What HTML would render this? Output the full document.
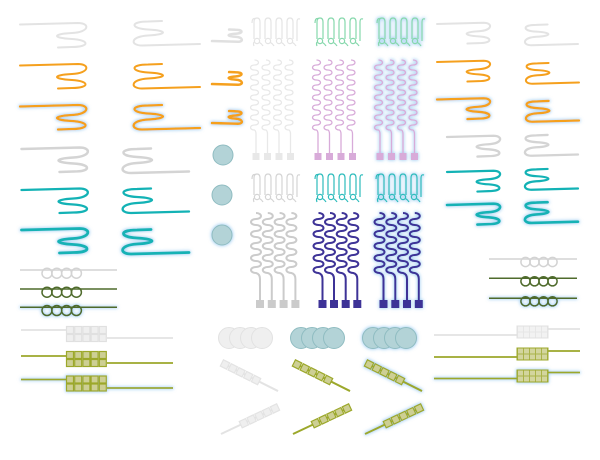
<!DOCTYPE html>
<html><head><meta charset="utf-8"><style>html,body{margin:0;padding:0;background:#fff}svg{display:block}</style></head>
<body>
<svg width="600" height="460" viewBox="0 0 600 460" xmlns="http://www.w3.org/2000/svg" xmlns:xlink="http://www.w3.org/1999/xlink">
<defs>
<filter id="g" filterUnits="userSpaceOnUse" x="0" y="0" width="600" height="460">
 <feMorphology in="SourceAlpha" operator="dilate" radius="0.5" result="d"/>
 <feGaussianBlur in="d" stdDeviation="1.6" result="b"/>
 <feFlood flood-color="#6ab2ea" flood-opacity="0.6"/>
 <feComposite in2="b" operator="in" result="c"/>
 <feMerge><feMergeNode in="c"/><feMergeNode in="SourceGraphic"/></feMerge>
</filter>
<path id="P" d="M0,0 L58,-1.5 C70,-1.5 70,7.5 52,8.5 C32,9.5 32,13.5 52,14.5 C70,15.5 70,22.5 52,22.5 L38,23" fill="none" vector-effect="non-scaling-stroke" stroke-linecap="round" stroke-linejoin="round"/>
<g id="N" fill="none" stroke-width="1.2">
 <path d="M0,6 Q0,1 3,1.5 M2,22 V5 Q2,1 5,1 Q8,1 8,5 V22 M13,22 V5 Q13,1 16,1 Q19,1 19,5 V22 M24,22 V5 Q24,1 27,1 Q30,1 30,5 V22 M35,22 V5 Q35,1 38,1 Q41,1 41,5 V22 M45,24 V5 Q45,1 48,2"/>
 <circle cx="5" cy="24" r="2.6"/><circle cx="16" cy="24" r="2.6"/><circle cx="27" cy="24" r="2.6"/><circle cx="38" cy="24" r="2.6"/>
 <path d="M7.5,25.5 Q10,27 11,29 M18.5,25.5 Q21,27 22,29 M29.5,25.5 Q32,27 33,29 M40.5,25.5 Q43,27 44,29 M2,25 Q1,27 2,29"/>
</g>
<g id="SU">
 <path fill="none" stroke-width="1.3" d="M-1.5,60 a4,2.5 0 0 1 0,5 a4,2.5 0 0 0 0,5 a4,2.5 0 0 1 0,5 a4,2.5 0 0 0 0,5 a4,2.5 0 0 1 0,5 a4,2.5 0 0 0 0,5 a4,2.5 0 0 1 0,5 a4,2.5 0 0 0 0,5 a4,2.5 0 0 1 0,5 a4,2.5 0 0 0 0,5 a4,2.5 0 0 1 0,5 a4,2.5 0 0 0 0,5 a4,2.5 0 0 1 0,5 a4,2.5 0 0 0 0,5 Q0,131 0,134 V153"/>
 <rect x="-3.5" y="153" width="7" height="7" stroke="none"/>
</g>
<g id="SL">
 <path fill="none" stroke-width="2" d="M-4,213 a5,3 0 0 1 0,6 a5,3 0 0 0 0,6 a5,3 0 0 1 0,6 a5,3 0 0 0 0,6 a5,3 0 0 1 0,6 a5,3 0 0 0 0,6 a5,3 0 0 1 0,6 a5,3 0 0 0 0,6 a5,3 0 0 1 0,6 a5,3 0 0 0 0,6 Q0,274 0,279 V300"/>
 <rect x="-4" y="300" width="8" height="8" stroke="none"/>
</g>
<g id="BD">
 <path d="M0,0 H59.3" stroke-width="2" fill="none"/>
 <rect x="-3.5" y="-3.5" width="7" height="7"/><rect x="5.2" y="-3.5" width="7" height="7"/><rect x="13.8" y="-3.5" width="7" height="7"/><rect x="22.5" y="-3.5" width="7" height="7"/><rect x="31.2" y="-3.5" width="7" height="7"/>
</g>
<g id="BU">
 <path d="M0,0 H60" stroke-width="2" fill="none"/>
 <rect x="21.8" y="-3.5" width="7" height="7"/><rect x="30.4" y="-3.5" width="7" height="7"/><rect x="39" y="-3.5" width="7" height="7"/><rect x="47.6" y="-3.5" width="7" height="7"/><rect x="56.2" y="-3.5" width="7" height="7"/>
</g>
<g id="CL">
 <rect x="0" y="0" width="7" height="7"/><rect x="8.2" y="0" width="7" height="7"/><rect x="16.4" y="0" width="7" height="7"/><rect x="24.6" y="0" width="7" height="7"/><rect x="32.8" y="0" width="7" height="7"/>
 <rect x="0" y="8" width="7" height="7"/><rect x="8.2" y="8" width="7" height="7"/><rect x="16.4" y="8" width="7" height="7"/><rect x="24.6" y="8" width="7" height="7"/><rect x="32.8" y="8" width="7" height="7"/>
</g>
<g id="CR">
 <rect x="0.5" y="0.5" width="5" height="5"/><rect x="6.5" y="0.5" width="5" height="5"/><rect x="12.5" y="0.5" width="5" height="5"/><rect x="18.5" y="0.5" width="5" height="5"/><rect x="24.5" y="0.5" width="5" height="5"/>
 <rect x="0.5" y="6.5" width="5" height="5"/><rect x="6.5" y="6.5" width="5" height="5"/><rect x="12.5" y="6.5" width="5" height="5"/><rect x="18.5" y="6.5" width="5" height="5"/><rect x="24.5" y="6.5" width="5" height="5"/>
</g>
</defs>
<rect width="600" height="460" fill="#fff"/>

<!-- LEFT WIGGLES -->
<use href="#P" transform="translate(20,24.5)" stroke="#e3e3e3" stroke-width="2"/>
<use href="#P" transform="translate(200,44) rotate(180)" stroke="#e3e3e3" stroke-width="2"/>
<use href="#P" transform="translate(20,65.5)" stroke="#f5a01e" stroke-width="2"/>
<use href="#P" transform="translate(200,87) rotate(180)" stroke="#f5a01e" stroke-width="2"/>
<g filter="url(#g)">
<use href="#P" transform="translate(20,106.5)" stroke="#f5a01e" stroke-width="2.3"/>
<use href="#P" transform="translate(200,128) rotate(180)" stroke="#f5a01e" stroke-width="2.3"/>
</g>
<use href="#P" transform="translate(21.5,149)" stroke="#d4d4d4" stroke-width="2.5"/>
<use href="#P" transform="translate(189,171.5) rotate(180)" stroke="#d4d4d4" stroke-width="2.5"/>
<use href="#P" transform="translate(21.5,190)" stroke="#13b2b5" stroke-width="2.3"/>
<use href="#P" transform="translate(189,211.5) rotate(180)" stroke="#13b2b5" stroke-width="2.3"/>
<g filter="url(#g)">
<use href="#P" transform="translate(21.5,230)" stroke="#13b2b5" stroke-width="2.8"/>
<use href="#P" transform="translate(189,252.5) rotate(180)" stroke="#13b2b5" stroke-width="2.8"/>
</g>

<!-- RIGHT WIGGLES -->
<use href="#P" transform="translate(437,24) scale(0.8,0.85)" stroke="#e3e3e3" stroke-width="2"/>
<use href="#P" transform="translate(578,44) rotate(180) scale(0.8,0.85)" stroke="#e3e3e3" stroke-width="2"/>
<use href="#P" transform="translate(437,62) scale(0.8,0.85)" stroke="#f5a01e" stroke-width="2"/>
<use href="#P" transform="translate(579,82.5) rotate(180) scale(0.8,0.85)" stroke="#f5a01e" stroke-width="2"/>
<g filter="url(#g)">
<use href="#P" transform="translate(437,99.5) scale(0.8,0.85)" stroke="#f5a01e" stroke-width="2.3"/>
<use href="#P" transform="translate(579,120.5) rotate(180) scale(0.8,0.85)" stroke="#f5a01e" stroke-width="2.3"/>
</g>
<use href="#P" transform="translate(447,137) scale(0.8,0.85)" stroke="#d4d4d4" stroke-width="2.3"/>
<use href="#P" transform="translate(578,154.5) rotate(180) scale(0.8,0.85)" stroke="#d4d4d4" stroke-width="2.3"/>
<use href="#P" transform="translate(447,172) scale(0.8,0.85)" stroke="#13b2b5" stroke-width="2.2"/>
<use href="#P" transform="translate(578,188.5) rotate(180) scale(0.8,0.85)" stroke="#13b2b5" stroke-width="2.2"/>
<g filter="url(#g)">
<use href="#P" transform="translate(447,205) scale(0.8,0.85)" stroke="#13b2b5" stroke-width="2.6"/>
<use href="#P" transform="translate(578,221.7) rotate(180) scale(0.8,0.85)" stroke="#13b2b5" stroke-width="2.6"/>
</g>

<!-- SMALL WIGGLES -->
<use href="#P" transform="translate(212,41) scale(0.45,-0.5)" stroke="#e0e0e0" stroke-width="2.5"/>
<use href="#P" transform="translate(212,84) scale(0.45,-0.52)" stroke="#f5a01e" stroke-width="2.5"/>
<g filter="url(#g)">
<use href="#P" transform="translate(212,123) scale(0.45,-0.52)" stroke="#f5a01e" stroke-width="2.5"/>
</g>

<!-- SMALL CIRCLES -->
<circle cx="223" cy="155" r="10" fill="#b3d3d7" stroke="#8fbcc1" stroke-width="1"/>
<circle cx="222" cy="195" r="10" fill="#b3d3d7" stroke="#8fbcc1" stroke-width="1"/>
<g filter="url(#g)"><circle cx="222" cy="235" r="10" fill="#b3d3d7" stroke="#8fbcc1" stroke-width="1"/></g>

<!-- UPPER NEURONS + SQUIGGLES -->
<use href="#N" transform="translate(252,17)" stroke="#e4e4e4"/>
<use href="#N" transform="translate(315,17)" stroke="#86d8ac"/>
<g filter="url(#g)"><use href="#N" transform="translate(377,17)" stroke="#86d8ac"/></g>

<use href="#SU" x="256" stroke="#e8e8e8" fill="#e8e8e8"/>
<use href="#SU" x="267.5" stroke="#e8e8e8" fill="#e8e8e8"/>
<use href="#SU" x="279" stroke="#e8e8e8" fill="#e8e8e8"/>
<use href="#SU" x="290.5" stroke="#e8e8e8" fill="#e8e8e8"/>
<use href="#SU" x="318" stroke="#d8abd9" fill="#d8abd9"/>
<use href="#SU" x="329.5" stroke="#d8abd9" fill="#d8abd9"/>
<use href="#SU" x="341" stroke="#d8abd9" fill="#d8abd9"/>
<use href="#SU" x="352.5" stroke="#d8abd9" fill="#d8abd9"/>
<g filter="url(#g)">
<use href="#SU" x="380" stroke="#d8abd9" fill="#d8abd9"/>
<use href="#SU" x="391.5" stroke="#d8abd9" fill="#d8abd9"/>
<use href="#SU" x="403" stroke="#d8abd9" fill="#d8abd9"/>
<use href="#SU" x="414.5" stroke="#d8abd9" fill="#d8abd9"/>
</g>

<!-- LOWER NEURONS + SQUIGGLES -->
<use href="#N" transform="translate(252,173)" stroke="#d4d4d4"/>
<use href="#N" transform="translate(315,173)" stroke="#2dbcbc"/>
<g filter="url(#g)"><use href="#N" transform="translate(376,173)" stroke="#2dbcbc"/></g>

<use href="#SL" x="260" stroke="#cbcbcb" fill="#cbcbcb"/>
<use href="#SL" x="271.8" stroke="#cbcbcb" fill="#cbcbcb"/>
<use href="#SL" x="283.6" stroke="#cbcbcb" fill="#cbcbcb"/>
<use href="#SL" x="295.4" stroke="#cbcbcb" fill="#cbcbcb"/>
<use href="#SL" x="322.5" stroke="#3e3397" fill="#3e3397"/>
<use href="#SL" x="334" stroke="#3e3397" fill="#3e3397"/>
<use href="#SL" x="345.7" stroke="#3e3397" fill="#3e3397"/>
<use href="#SL" x="357.3" stroke="#3e3397" fill="#3e3397"/>
<g filter="url(#g)">
<use href="#SL" x="383.5" stroke="#3e3397" fill="#3e3397"/>
<use href="#SL" x="395.3" stroke="#3e3397" fill="#3e3397"/>
<use href="#SL" x="407" stroke="#3e3397" fill="#3e3397"/>
<use href="#SL" x="418.8" stroke="#3e3397" fill="#3e3397"/>
</g>

<!-- LEFT COILS -->
<g fill="none" stroke-width="1.5">
<g stroke="#d3d3d3"><path d="M20,270 H117"/><circle cx="47" cy="273.2" r="5"/><circle cx="56.8" cy="273.2" r="5"/><circle cx="66.6" cy="273.2" r="5"/><circle cx="76.4" cy="273.2" r="5"/></g>
<g stroke="#4f6b2c"><path d="M20,289 H117"/><circle cx="47" cy="292.2" r="5"/><circle cx="56.8" cy="292.2" r="5"/><circle cx="66.6" cy="292.2" r="5"/><circle cx="76.4" cy="292.2" r="5"/></g>
<g stroke="#4f6b2c" filter="url(#g)"><path d="M20,307.3 H117"/><circle cx="47" cy="310.5" r="5"/><circle cx="56.8" cy="310.5" r="5"/><circle cx="66.6" cy="310.5" r="5"/><circle cx="76.4" cy="310.5" r="5"/></g>
</g>

<!-- RIGHT COILS -->
<g fill="none" stroke-width="1.5">
<g stroke="#d3d3d3"><path d="M489,259 H577"/><circle cx="525.5" cy="262" r="4.6"/><circle cx="534.5" cy="262" r="4.6"/><circle cx="543.5" cy="262" r="4.6"/><circle cx="552.5" cy="262" r="4.6"/></g>
<g stroke="#4f6b2c"><path d="M489,278.3 H577"/><circle cx="525.5" cy="281.3" r="4.6"/><circle cx="534.5" cy="281.3" r="4.6"/><circle cx="543.5" cy="281.3" r="4.6"/><circle cx="552.5" cy="281.3" r="4.6"/></g>
<g stroke="#4f6b2c" filter="url(#g)"><path d="M489,298.3 H577"/><circle cx="525.5" cy="301.3" r="4.6"/><circle cx="534.5" cy="301.3" r="4.6"/><circle cx="543.5" cy="301.3" r="4.6"/><circle cx="552.5" cy="301.3" r="4.6"/></g>
</g>

<!-- LEFT CHAINS -->
<path d="M21,330 H66 M107,338 H173" stroke="#e3e3e3" stroke-width="1.8" fill="none"/>
<use href="#CL" x="66.5" y="326.5" fill="#efefef" stroke="#e0e0e0" stroke-width="1.2"/>
<path d="M21,356 H66 M107,363 H173" stroke="#9ca82b" stroke-width="1.8" fill="none"/>
<use href="#CL" x="66.5" y="351.5" fill="#cdcf94" stroke="#9ca82b" stroke-width="1.2"/>
<g filter="url(#g)">
<path d="M21,379.5 H66 M107,388 H173" stroke="#9ca82b" stroke-width="1.8" fill="none"/>
<use href="#CL" x="66.5" y="376" fill="#cdcf94" stroke="#9ca82b" stroke-width="1.2"/>
</g>

<!-- RIGHT CHAINS -->
<path d="M434,335 H517 M548,329 H580" stroke="#e3e3e3" stroke-width="1.8" fill="none"/>
<rect x="517" y="326" width="31" height="12" fill="#e6e6e6" stroke="#e0e0e0" stroke-width="1"/>
<use href="#CR" x="517.5" y="326" fill="#f2f2f2"/>
<path d="M434,357 H517 M548,351 H580" stroke="#9ca82b" stroke-width="1.8" fill="none"/>
<rect x="517" y="348" width="31" height="12" fill="#aab24a" stroke="#9ca82b" stroke-width="1"/>
<use href="#CR" x="517.5" y="348" fill="#d3d59e"/>
<g filter="url(#g)">
<path d="M434,378.5 H517 M548,372.5 H580" stroke="#9ca82b" stroke-width="1.8" fill="none"/>
<rect x="517" y="370" width="31" height="12" fill="#aab24a" stroke="#9ca82b" stroke-width="1"/>
<use href="#CR" x="517.5" y="370" fill="#d3d59e"/>
</g>

<!-- CIRCLE CLUSTERS -->
<g fill="#efefef" stroke="#e2e2e2" stroke-width="1">
<circle cx="229" cy="338" r="10.5"/><circle cx="240" cy="338" r="10.5"/><circle cx="251" cy="338" r="10.5"/><circle cx="262" cy="338" r="10.5"/>
</g>
<g fill="#b3d3d7" stroke="#8fbcc1" stroke-width="1">
<circle cx="301" cy="338" r="10.5"/><circle cx="312" cy="338" r="10.5"/><circle cx="323" cy="338" r="10.5"/><circle cx="334" cy="338" r="10.5"/>
</g>
<g fill="#b3d3d7" stroke="#8fbcc1" stroke-width="1" filter="url(#g)">
<circle cx="373" cy="338" r="10.5"/><circle cx="384" cy="338" r="10.5"/><circle cx="395" cy="338" r="10.5"/><circle cx="406" cy="338" r="10.5"/>
</g>

<!-- DIAGONAL BEAD STRIPS -->
<use href="#BD" transform="translate(225,364.5) rotate(26.6)" stroke="#e3e3e3" fill="#efefef" stroke-width="1.2"/>
<use href="#BD" transform="translate(297,364.5) rotate(26.6)" stroke="#9ca82b" fill="#cdcf94" stroke-width="1.2"/>
<g filter="url(#g)"><use href="#BD" transform="translate(369,364.5) rotate(26.6)" stroke="#9ca82b" fill="#cdcf94" stroke-width="1.2"/></g>
<use href="#BU" transform="translate(221,434) rotate(-25.3)" stroke="#e3e3e3" fill="#efefef" stroke-width="1.2"/>
<use href="#BU" transform="translate(293,434) rotate(-25.3)" stroke="#9ca82b" fill="#cdcf94" stroke-width="1.2"/>
<g filter="url(#g)"><use href="#BU" transform="translate(365,434) rotate(-25.3)" stroke="#9ca82b" fill="#cdcf94" stroke-width="1.2"/></g>
</svg>
</body></html>
